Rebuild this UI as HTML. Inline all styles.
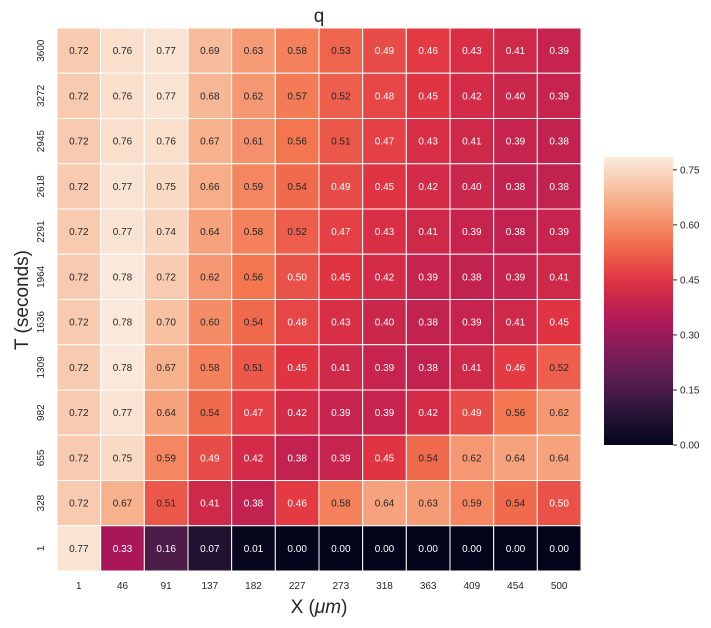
<!DOCTYPE html>
<html><head><meta charset="utf-8"><style>
body{margin:0;background:#fff;}
svg text{font-family:"Liberation Sans",sans-serif;}
</style></head><body>
<svg id="chart" width="711" height="623" xmlns="http://www.w3.org/2000/svg">
<text x="319" y="22" font-size="19" text-anchor="middle" fill="#262626">q</text>
<text x="319" y="613" font-size="19" text-anchor="middle" fill="#262626">X (<tspan font-style="italic">μm</tspan>)</text>
<text transform="translate(28,300) rotate(-90)" font-size="19" text-anchor="middle" fill="#262626">T (seconds)</text>
<g id="cells"></g><g id="xt"></g><g id="yt"></g><g id="cb"></g>
</svg>
<script>
const xLabels=["1","46","91","137","182","227","273","318","363","409","454","500"];
const yLabels=["3600","3272","2945","2618","2291","1964","1636","1309","982","655","328","1"];
const values=[
[0.72,0.76,0.77,0.69,0.63,0.58,0.53,0.49,0.46,0.43,0.41,0.39],
[0.72,0.76,0.77,0.68,0.62,0.57,0.52,0.48,0.45,0.42,0.40,0.39],
[0.72,0.76,0.76,0.67,0.61,0.56,0.51,0.47,0.43,0.41,0.39,0.38],
[0.72,0.77,0.75,0.66,0.59,0.54,0.49,0.45,0.42,0.40,0.38,0.38],
[0.72,0.77,0.74,0.64,0.58,0.52,0.47,0.43,0.41,0.39,0.38,0.39],
[0.72,0.78,0.72,0.62,0.56,0.50,0.45,0.42,0.39,0.38,0.39,0.41],
[0.72,0.78,0.70,0.60,0.54,0.48,0.43,0.40,0.38,0.39,0.41,0.45],
[0.72,0.78,0.67,0.58,0.51,0.45,0.41,0.39,0.38,0.41,0.46,0.52],
[0.72,0.77,0.64,0.54,0.47,0.42,0.39,0.39,0.42,0.49,0.56,0.62],
[0.72,0.75,0.59,0.49,0.42,0.38,0.39,0.45,0.54,0.62,0.64,0.64],
[0.72,0.67,0.51,0.41,0.38,0.46,0.58,0.64,0.63,0.59,0.54,0.50],
[0.77,0.33,0.16,0.07,0.01,0.00,0.00,0.00,0.00,0.00,0.00,0.00]];
const cbTicks=[0,0.15,0.30,0.45,0.60,0.75];
const vmin=0,vmax=0.785;
const stops=[[0,[3,5,26]],[0.143,[53,25,62]],[0.286,[112,31,87]],[0.429,[173,23,89]],[0.571,[225,51,66]],[0.714,[243,118,81]],[0.857,[246,180,143]],[1,[250,235,221]]];
function cmap(v){let t=Math.max(0,Math.min(1,(v-vmin)/(vmax-vmin)));
for(let i=1;i<stops.length;i++){if(t<=stops[i][0]){const a=stops[i-1],b=stops[i];const f=(t-a[0])/(b[0]-a[0]);
return a[1].map((c,k)=>Math.round(c+(b[1][k]-c)*f));}}return stops[stops.length-1][1];}
const L=57,R=581,T=28,B=571;
const cw=(R-L)/xLabels.length,ch=(B-T)/yLabels.length;
const xs=i=>L+i*cw, ys=j=>T+j*ch;
const NS="http://www.w3.org/2000/svg";
function mk(tag,attrs,parent,txt){const e=document.createElementNS(NS,tag);for(const k in attrs)e.setAttribute(k,attrs[k]);if(txt!==undefined)e.textContent=txt;parent.appendChild(e);return e;}
const cells=document.getElementById('cells');
values.forEach((row,j)=>row.forEach((v,i)=>{
 const c=cmap(v);
 const r=mk('rect',{x:xs(i),y:ys(j),width:cw,height:ch,fill:`rgb(${c})`,stroke:'#fff','stroke-width':1},cells);
 
 
 const lum=(0.2126*c[0]+0.7152*c[1]+0.0722*c[2])/255;
 const t=mk('text',{x:xs(i)+cw/2,y:ys(j)+ch/2+3.5,'font-size':10,'text-anchor':'middle',fill:lum>0.45?'#262626':'#ffffff'},cells,v.toFixed(2));
 
 
}));
const xt=document.getElementById('xt');
xLabels.forEach((l,i)=>{const t=mk('text',{x:xs(i)+cw/2,y:589,'font-size':10,'text-anchor':'middle',fill:'#262626'},xt,l);

});
const yt=document.getElementById('yt');
yLabels.forEach((l,j)=>{const t=mk('text',{transform:`translate(44,${ys(j)+ch/2}) rotate(-90)`,'font-size':10,'text-anchor':'middle',fill:'#262626'},yt,l);

});
const cb=document.getElementById('cb');
const cbT=157,cbB=445,cbL=604,cbW=69;
const defs=mk('defs',{},cb);const g=mk('linearGradient',{id:'cbg',x1:0,y1:1,x2:0,y2:0},defs);
for(let k=0;k<=20;k++){const c=cmap(vmin+(vmax-vmin)*k/20);mk('stop',{offset:k/20,'stop-color':`rgb(${c})`},g);}
const cr=mk('rect',{x:cbL,y:cbT,width:cbW,height:cbB-cbT,fill:'url(#cbg)'},cb);


const cy=v=>cbB-(v-vmin)/(vmax-vmin)*(cbB-cbT);
cbTicks.forEach(v=>{mk('line',{x1:cbL+cbW,x2:cbL+cbW+4,y1:cy(v),y2:cy(v),stroke:'#262626'},cb);
const t=mk('text',{x:cbL+cbW+7,y:cy(v)+3.5,'font-size':10,fill:'#262626'},cb,v.toFixed(2));

});
</script>
</body></html>
